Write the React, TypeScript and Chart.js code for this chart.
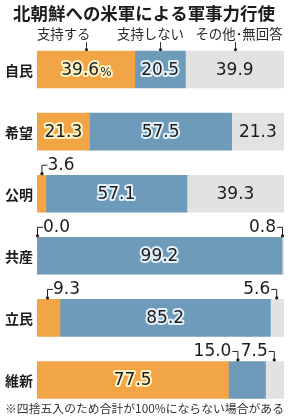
import React, { useEffect, useRef } from "react";
import { Chart, registerables } from "chart.js";

Chart.register(...registerables);

const title = "北朝鮮への米軍による軍事力行使";
const footnote = "※四捨五入のため合計が100%にならない場合がある";
const categories = ["自民", "希望", "公明", "共産", "立民", "維新"];
const seriesNames = ["支持する", "支持しない", "その他･無回答"];
const support = [39.6, 21.3, 3.6, 0.0, 9.3, 77.5];
const oppose = [20.5, 57.5, 57.1, 99.2, 85.2, 15.0];
const other = [39.9, 21.3, 39.3, 0.8, 5.6, 7.5];
// [categoryIndex, seriesIndex, side] labels drawn above the bar with a leader
const outsideLabels: [number, number, "left" | "right"][] = [
  [2, 0, "left"],
  [3, 0, "left"],
  [3, 2, "right"],
  [4, 0, "left"],
  [4, 2, "right"],
  [5, 1, "right"],
  [5, 2, "right"],
];

const COLORS = ["#F2A546", "#6E9BBA", "#E2E2E2"];
const HALOS = ["#FFF4C4", "#E4F1FA", null];
const TEXT = "#1c1c1c";
const NUM_FONT = '"DejaVu Sans", sans-serif';
const JP_FONT = '"Noto Sans CJK JP", sans-serif';

function fitFont(ctx: CanvasRenderingContext2D, text: string, weight: string, target: number) {
  ctx.font = `${weight} 12px ${JP_FONT}`;
  const w = ctx.measureText(text).width;
  const size = (12 * target) / w;
  ctx.font = `${weight} ${size.toFixed(2)}px ${JP_FONT}`;
}

const overlay = {
  id: "overlay",
  afterDatasetsDraw(chart: any) {
    const ctx = chart.ctx as CanvasRenderingContext2D;
    const area = chart.chartArea;
    const metas = [0, 1, 2].map((i) => chart.getDatasetMeta(i));
    const seg = (ci: number, si: number) => {
      const el = metas[si].data[ci];
      const a = Math.max(area.left, Math.min(el.base, el.x));
      const b = Math.min(area.right, Math.max(el.base, el.x));
      return { a, b, y: el.y, top: el.y - el.height / 2, h: el.height };
    };
    const isOutside = (ci: number, si: number) =>
      outsideLabels.some((o) => o[0] === ci && o[1] === si);
    const values = [support, oppose, other];

    ctx.save();
    ctx.textBaseline = "middle";
    ctx.lineJoin = "round";

    // inside labels
    for (let ci = 0; ci < categories.length; ci++) {
      for (let si = 0; si < 3; si++) {
        if (isOutside(ci, si)) continue;
        const s = seg(ci, si);
        const txt = values[si][ci].toFixed(1);
        const pct = ci === 0 && si === 0 ? "%" : "";
        ctx.font = `17px ${NUM_FONT}`;
        const w1 = ctx.measureText(txt).width;
        ctx.font = `12px ${NUM_FONT}`;
        const w2 = pct ? ctx.measureText(pct).width : 0;
        const cx = (s.a + s.b) / 2;
        const x = cx - (w1 + w2) / 2;
        const y = s.y + 1;
        const halo = HALOS[si];
        ctx.textAlign = "left";
        const draw = (t: string, xx: number, yy: number, font: string) => {
          ctx.font = font;
          if (halo) {
            ctx.strokeStyle = halo;
            ctx.lineWidth = 4;
            ctx.strokeText(t, xx, yy);
          }
          ctx.fillStyle = TEXT;
          ctx.fillText(t, xx, yy);
        };
        draw(txt, x, y, `17px ${NUM_FONT}`);
        if (pct) draw(pct, x + w1 + 1, y + 2, `12px ${NUM_FONT}`);
      }
    }

    // outside labels with bracket leaders
    ctx.strokeStyle = "#222";
    ctx.fillStyle = TEXT;
    for (const [ci, si, side] of outsideLabels) {
      const s = seg(ci, si);
      const half = (s.b - s.a) / 2;
      const ax = s.a + Math.min(half, 10);
      const ty = s.top - 10;
      const txt = values[si][ci].toFixed(1);
      ctx.font = `17px ${NUM_FONT}`;
      ctx.lineWidth = 1;
      ctx.beginPath();
      if (side === "left") {
        ctx.moveTo(ax + 6, ty);
        ctx.lineTo(ax + 0.5, ty);
        ctx.lineTo(ax + 0.5, s.top - 1);
        ctx.stroke();
        ctx.textAlign = "left";
        ctx.fillText(txt, ax + 6, ty);
      } else {
        ctx.moveTo(ax - 6, ty);
        ctx.lineTo(ax - 0.5, ty);
        ctx.lineTo(ax - 0.5, s.top - 1);
        ctx.stroke();
        ctx.textAlign = "right";
        ctx.fillText(txt, ax - 7, ty);
      }
      ctx.beginPath();
      ctx.arc(side === "left" ? ax + 0.5 : ax - 0.5, s.top - 1.5, 1.6, 0, Math.PI * 2);
      ctx.fill();
    }

    // category labels
    ctx.font = `bold 14px ${JP_FONT}`;
    ctx.textAlign = "left";
    ctx.fillStyle = TEXT;
    for (let ci = 0; ci < categories.length; ci++) {
      const s = seg(ci, 0);
      ctx.fillText(categories[ci], 5, s.y + 1);
    }

    // title
    fitFont(ctx, title, "bold", 262);
    ctx.textAlign = "center";
    ctx.fillText(title, 144, 13);

    // legend labels with leaders to first bar
    ctx.font = `13.4px ${JP_FONT}`;
    ctx.fillStyle = "#2a2a2a";
    const offsets = [
      { align: "right", dx: 4 },
      { align: "center", dx: -10 },
      { align: "center", dx: 3.5 },
    ];
    for (let si = 0; si < 3; si++) {
      const s = seg(0, si);
      const lx = Math.round((s.a + s.b) / 2) + 0.5;
      ctx.textAlign = offsets[si].align as CanvasTextAlign;
      ctx.fillText(seriesNames[si], lx + offsets[si].dx, 34);
      ctx.strokeStyle = "#333";
      ctx.lineWidth = 1;
      ctx.beginPath();
      ctx.moveTo(lx, 42);
      ctx.lineTo(lx, s.top);
      ctx.stroke();
      ctx.beginPath();
      ctx.fillStyle = "#222";
      ctx.arc(lx, s.top - 1.5, 1.6, 0, Math.PI * 2);
      ctx.fill();
      ctx.fillStyle = "#2a2a2a";
    }

    // footnote
    fitFont(ctx, footnote, "normal", 279);
    ctx.textAlign = "left";
    ctx.fillStyle = "#333";
    ctx.fillText(footnote, 5, 409);

    ctx.restore();
  },
};

export default function App() {
  const ref = useRef<HTMLCanvasElement>(null);
  useEffect(() => {
    document.body.style.margin = "0";
    const chart = new Chart(ref.current!, {
      type: "bar",
      data: {
        labels: categories,
        datasets: [support, oppose, other].map((d, i) => ({
          label: seriesNames[i],
          data: d,
          backgroundColor: COLORS[i],
          borderWidth: 0,
          barThickness: 37,
        })),
      },
      options: {
        indexAxis: "y",
        responsive: false,
        devicePixelRatio: 1,
        animation: false,
        layout: { padding: { top: 38.5, bottom: 9, left: 37, right: 4 } },
        scales: {
          x: { stacked: true, min: 0, max: 100, display: false },
          y: { stacked: true, display: false },
        },
        plugins: { legend: { display: false }, tooltip: { enabled: false } },
      },
      plugins: [overlay],
    });
    return () => chart.destroy();
  }, []);
  return (
    <div style={{ width: 288, height: 420, background: "#fff" }}>
      <canvas ref={ref} width={288} height={420} style={{ display: "block" }} />
    </div>
  );
}
